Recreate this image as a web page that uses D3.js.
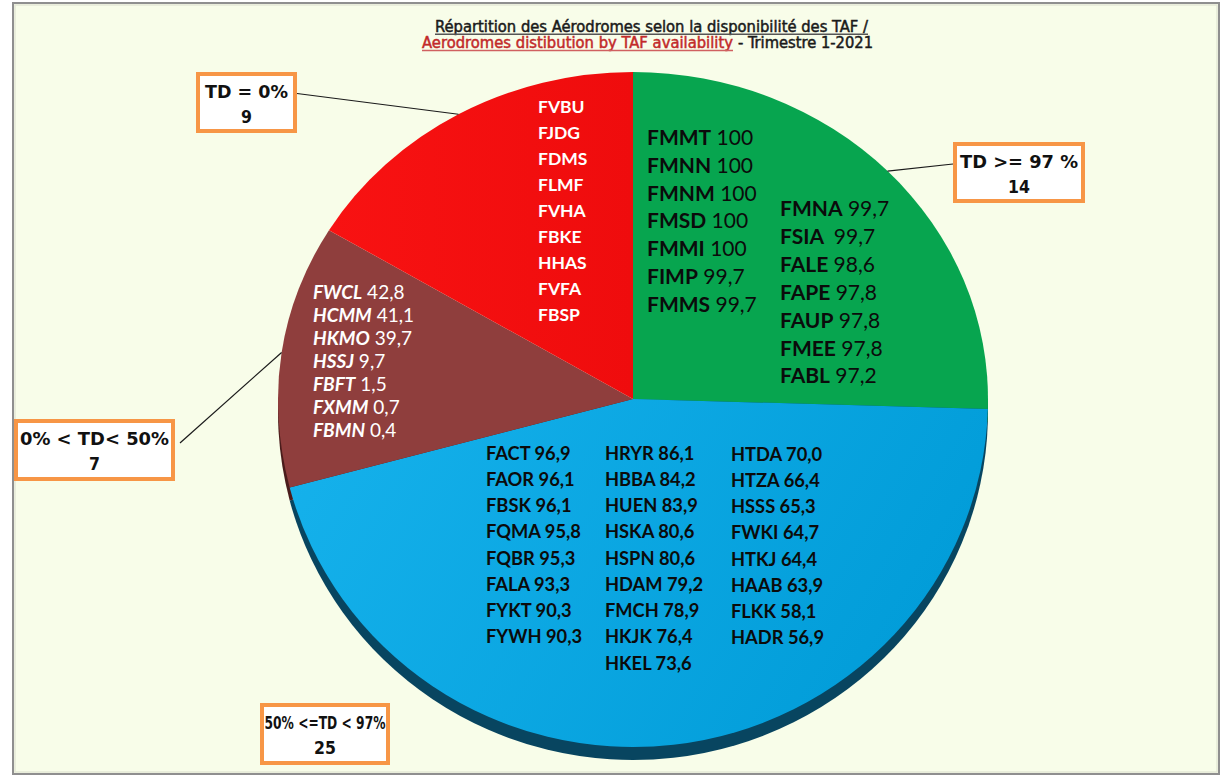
<!DOCTYPE html>
<html><head><meta charset="utf-8">
<script src="https://cdn.jsdelivr.net/npm/d3@7"></script>
<style>body{margin:0;background:#fff;overflow:hidden}</style>
</head><body><svg id="c" width="1228" height="778"></svg>
<script>
// ---------- data ----------
const categories = ["TD >= 97 %", "50% <=TD < 97%", "0% < TD< 50%", "TD = 0%"];
const counts = [14, 25, 7, 9];

const greenCodes = ["FMMT","FMNN","FMNM","FMSD","FMMI","FIMP","FMMS","FMNA","FSIA ","FALE","FAPE","FAUP","FMEE","FABL"];
const greenValues = [100,100,100,100,100,99.7,99.7,99.7,99.7,98.6,97.8,97.8,97.8,97.2];

const blueCodes = ["FACT","FAOR","FBSK","FQMA","FQBR","FALA","FYKT","FYWH",
                   "HRYR","HBBA","HUEN","HSKA","HSPN","HDAM","FMCH","HKJK","HKEL",
                   "HTDA","HTZA","HSSS","FWKI","HTKJ","HAAB","FLKK","HADR"];
const blueValues = [96.9,96.1,96.1,95.8,95.3,93.3,90.3,90.3,
                    86.1,84.2,83.9,80.6,80.6,79.2,78.9,76.4,73.6,
                    70.0,66.4,65.3,64.7,64.4,63.9,58.1,56.9];

const brownCodes = ["FWCL","HCMM","HKMO","HSSJ","FBFT","FXMM","FBMN"];
const brownValues = [42.8,41.1,39.7,9.7,1.5,0.7,0.4];

const redCodes = ["FVBU","FJDG","FDMS","FLMF","FVHA","FBKE","HHAS","FVFA","FBSP"];

const titleLine1 = "Répartition des Aérodromes selon la disponibilité des TAF /";
const titleLine2a = "Aerodromes distibution by TAF availability";
const titleLine2b = "- Trimestre 1-2021";

// ---------- styling / layout ----------
const faceColors = ["#07a54f", "url(#gBlue)", "#8f3e3d", "url(#gRed)"];
const sideColors = ["#03552a", "#084560", "#4a1c1b", "#7a0808"];
const W = 1228, H = 778;
const cx = 633, cy = 399, R = 355;
const kTop = 327 / R, kBot = 348 / R, depth = 13;

const svg = d3.select("#c");
const defs = svg.append("defs");
const gb = defs.append("linearGradient").attr("id","gBlue").attr("x1","0").attr("x2","1").attr("y1","0").attr("y2","0.3");
gb.append("stop").attr("offset","0").attr("stop-color","#16b2ec");
gb.append("stop").attr("offset","1").attr("stop-color","#029dd9");
const gr = defs.append("linearGradient").attr("id","gRed").attr("x1","0").attr("x2","1");
gr.append("stop").attr("offset","0").attr("stop-color","#f81212");
gr.append("stop").attr("offset","1").attr("stop-color","#ef0c0d");
defs.append("clipPath").attr("id","clipTop").append("rect").attr("x",0).attr("y",0).attr("width",W).attr("height",cy+0.5);
defs.append("clipPath").attr("id","clipBot").append("rect").attr("x",0).attr("y",cy).attr("width",W).attr("height",H-cy);

// frame
svg.append("rect").attr("x",13).attr("y",3).attr("width",1206).attr("height",771)
  .attr("fill","#f8fde9").attr("stroke","#8f8f8f").attr("stroke-width",2);
svg.append("rect").attr("x",15).attr("y",5).attr("width",1202).attr("height",767)
  .attr("fill","none").attr("stroke","#e4e8d6").attr("stroke-width",1.5);

// ---------- pie ----------
const pie = d3.pie().sort(null).value(d => d)(counts);
const arc = d3.arc().innerRadius(0).outerRadius(R);

// sides (3D depth), only visible below
const sideG = svg.append("g").attr("clip-path","url(#clipBot)")
  .append("g").attr("transform",`translate(${cx},${cy+depth}) scale(1,${kBot})`);
sideG.selectAll("path").data(pie).join("path")
  .attr("d", arc).attr("fill",(d,i)=>sideColors[i]);

[["clipTop",kTop],["clipBot",kBot]].forEach(([clip,k])=>{
  const g = svg.append("g").attr("clip-path",`url(#${clip})`)
    .append("g").attr("transform",`translate(${cx},${cy}) scale(1,${k})`);
  g.selectAll("path").data(pie).join("path")
    .attr("d", arc).attr("fill",(d,i)=>faceColors[i]);
});

// ---------- labels inside slices ----------
const fmt = v => v === 100 ? "100" : v.toFixed(1).replace(".", ",");
const FONT_IN = "Lato, 'Open Sans', sans-serif";

function column(codes, values, x, y0, pitch, opt) {
  const t = svg.append("g");
  codes.forEach((c, i) => {
    const tx = t.append("text").attr("x", x).attr("y", y0 + i * pitch)
      .attr("font-family", FONT_IN).attr("font-size", opt.size)
      .attr("fill", opt.color).attr("xml:space","preserve");
    tx.append("tspan").attr("font-weight", 700).attr("font-style", opt.italic ? "italic" : "normal").text(c);
    if (values) tx.append("tspan").attr("font-weight", opt.numWeight).text(" " + fmt(values[i]));
  });
}
// green
column(greenCodes.slice(0,7), greenValues.slice(0,7), 647, 145, 27.8, {size:21, color:"#0b0b0b", numWeight:400});
column(greenCodes.slice(7), greenValues.slice(7), 780, 216, 27.9, {size:21, color:"#0b0b0b", numWeight:400});
// blue
column(blueCodes.slice(0,8), blueValues.slice(0,8), 486, 459.5, 26.25, {size:18.3, color:"#0b0b0b", numWeight:700});
column(blueCodes.slice(8,17), blueValues.slice(8,17), 605, 459.5, 26.25, {size:18.3, color:"#0b0b0b", numWeight:700});
column(blueCodes.slice(17), blueValues.slice(17), 731, 460.5, 26.25, {size:18.3, color:"#0b0b0b", numWeight:700});
// brown
column(brownCodes, brownValues, 313, 299.3, 22.9, {size:19, color:"#ffffff", italic:true, numWeight:400});
// red
column(redCodes, null, 538, 113.3, 26, {size:17.5, color:"#ffffff"});

// ---------- callouts ----------
const boxes = [
  {x:955, y:144, w:128, h:57, tw:118, lx:953, ly:164},
  {x:262, y:705, w:126, h:58, tw:121, lx:null, ly:null},
  {x:16,  y:421, w:157, h:58, tw:149, lx:180, ly:443},
  {x:198, y:74,  w:97,  h:57, tw:83,  lx:297, ly:93.5}
];
const leaderG = svg.append("g");
pie.forEach((d, i) => {
  const b = boxes[i];
  if (b.lx == null) return;
  const a = (d.startAngle + d.endAngle) / 2;
  const px = cx + R * Math.sin(a);
  const py = cy - R * Math.cos(a) * (Math.cos(a) > 0 ? kTop : kBot);
  leaderG.append("line").attr("x1", b.lx).attr("y1", b.ly).attr("x2", px).attr("y2", py)
    .attr("stroke", "#1a1a1a").attr("stroke-width", 1.2);
});
const CF = "'DejaVu Sans Condensed', 'DejaVu Sans', Verdana, sans-serif";
const boxG = svg.append("g");
categories.forEach((c, i) => {
  const b = boxes[i];
  boxG.append("rect").attr("x", b.x).attr("y", b.y).attr("width", b.w).attr("height", b.h)
    .attr("fill", "#ffffff").attr("stroke", "#f79646").attr("stroke-width", 4);
  boxG.append("text").attr("x", b.x + b.w/2 - b.tw/2).attr("y", b.y + 24)
    .attr("font-family",CF).attr("font-weight",700).attr("font-size",17.5).attr("fill","#111")
    .attr("textLength", b.tw).attr("lengthAdjust","spacingAndGlyphs").text(c);
  boxG.append("text").attr("text-anchor","middle").attr("x", b.x + b.w/2).attr("y", b.y + 49)
    .attr("font-family",CF).attr("font-weight",700).attr("font-size",17.5).attr("fill","#111")
    .text(counts[i]);
});

// ---------- title ----------
const TF = "'DejaVu Sans Condensed', 'DejaVu Sans', sans-serif";
function titleText(str, x, y, w, color) {
  svg.append("text").attr("x",x).attr("y",y).attr("font-family",TF).attr("font-size",15)
    .attr("fill",color).attr("stroke",color).attr("stroke-width",0.45)
    .attr("textLength",w).attr("lengthAdjust","spacingAndGlyphs").text(str);
}
titleText(titleLine1, 435, 31.7, 433, "#1a1a1a");
svg.append("line").attr("x1",435).attr("x2",868).attr("y1",34.2).attr("y2",34.2).attr("stroke","#555").attr("stroke-width",1.4);
titleText(titleLine2a, 422, 47.7, 311, "#c22a2a");
svg.append("line").attr("x1",422).attr("x2",733).attr("y1",50.5).attr("y2",50.5).attr("stroke","#d06060").attr("stroke-width",1.4);
titleText(titleLine2b, 738, 47.7, 135, "#1a1a1a");
</script></body></html>
